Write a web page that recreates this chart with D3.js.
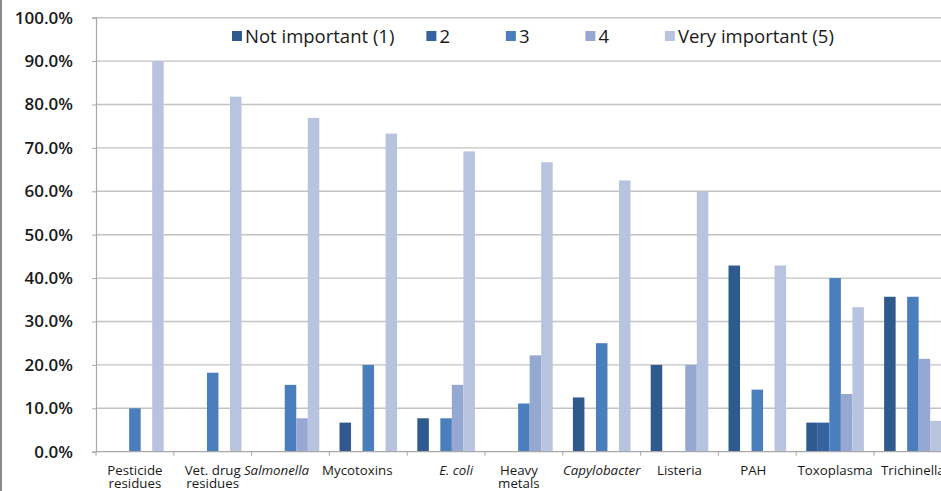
<!DOCTYPE html>
<html>
<head>
<meta charset="utf-8">
<script src="https://cdn.jsdelivr.net/npm/d3@7/dist/d3.min.js"></script>
<style>
  html, body { margin: 0; padding: 0; background: #ffffff; }
  svg { display: block; }
  text { font-family: "Open Sans", "Noto Sans", sans-serif; fill: #1a1a1a; }
</style>
</head>
<body>
<svg id="chart" width="941" height="491"></svg>
<script>
// Survey: perceived importance of hazards (share of respondents, %)
const categories = ["Pesticide residues", "Vet. drug residues", "Salmonella", "Mycotoxins", "E. coli",
  "Heavy metals", "Capylobacter", "Listeria", "PAH", "Toxoplasma", "Trichinella"];
const italicCategories = ["Salmonella", "E. coli", "Capylobacter"];
const seriesNames = ["Not important (1)", "2", "3", "4", "Very important (5)"];
const notImportant  = [0, 0, 0, 6.7, 7.7, 0, 12.5, 20, 42.9, 6.7, 35.7];
const rating2       = [0, 0, 0, 0, 0, 0, 0, 0, 0, 6.7, 0];
const rating3       = [10, 18.2, 15.4, 20, 7.7, 11.1, 25, 0, 14.3, 40, 35.7];
const rating4       = [0, 0, 7.7, 0, 15.4, 22.2, 0, 20, 0, 13.3, 21.4];
const veryImportant = [90, 81.8, 76.9, 73.3, 69.2, 66.7, 62.5, 60, 42.9, 33.3, 7.1];
const yTicks = [0, 10, 20, 30, 40, 50, 60, 70, 80, 90, 100];

const seriesValues = [notImportant, rating2, rating3, rating4, veryImportant];
const colors = ["#2e5a8d", "#3463a0", "#4a7ebd", "#95a8d2", "#b8c4df"];

const svg = d3.select("#chart");

// plot geometry
const plotLeft = 96, plotTop = 17.7, plotBottom = 451.7;
const step = 77.8;

const x = d3.scaleBand()
  .domain(categories)
  .range([plotLeft, plotLeft + step * categories.length])
  .paddingInner(0.26)
  .paddingOuter(0.13);

const xs = d3.scaleBand()
  .domain(d3.range(seriesNames.length))
  .range([0, x.bandwidth()]);

const y = d3.scaleLinear().domain([0, 100]).range([plotBottom, plotTop]);

// frame edge on the left
svg.append("line")
  .attr("x1", 1).attr("x2", 1).attr("y1", 0).attr("y2", 491)
  .attr("stroke", "#8a8a8a").attr("stroke-width", 2);

// horizontal gridlines
svg.append("g")
  .selectAll("line")
  .data(yTicks.filter(d => d > 0))
  .join("line")
  .attr("x1", plotLeft).attr("x2", 941)
  .attr("y1", d => y(d)).attr("y2", d => y(d))
  .attr("stroke", "#c3c3c3").attr("stroke-width", 1.4);

// y axis
const yAxis = svg.append("g")
  .attr("transform", `translate(${plotLeft},0)`)
  .call(d3.axisLeft(y).tickValues(yTicks).tickSize(4).tickPadding(19)
    .tickFormat(d => d.toFixed(1) + "%"));
yAxis.select(".domain").attr("stroke", "#a8a8a8").attr("stroke-width", 1.2);
yAxis.selectAll(".tick line").attr("stroke", "#a8a8a8");
yAxis.selectAll(".tick text")
  .attr("font-size", 17).attr("font-weight", 600)
  .attr("fill", "#1a1a1a")
  .style("font-family", "'Open Sans', sans-serif");

// bars
const groups = svg.append("g")
  .selectAll("g")
  .data(seriesValues)
  .join("g")
  .attr("fill", (d, i) => colors[i]);

groups.selectAll("rect")
  .data((vals, si) => vals.map((v, ci) => ({ v, ci, si })))
  .join("rect")
  .attr("x", d => x(categories[d.ci]) + xs(d.si))
  .attr("width", xs.bandwidth())
  .attr("y", d => y(d.v))
  .attr("height", d => y(0) - y(d.v));

// x axis baseline and category ticks
const xAxisG = svg.append("g");
xAxisG.append("line")
  .attr("x1", plotLeft).attr("x2", 941)
  .attr("y1", plotBottom).attr("y2", plotBottom)
  .attr("stroke", "#a8a8a8").attr("stroke-width", 1.2);
xAxisG.selectAll("line.tick")
  .data(d3.range(categories.length + 1))
  .join("line")
  .attr("class", "tick")
  .attr("x1", i => plotLeft + i * step).attr("x2", i => plotLeft + i * step)
  .attr("y1", plotBottom).attr("y2", plotBottom + 4)
  .attr("stroke", "#a8a8a8");

// category labels (two-word labels wrap onto a second line)
const wrapped = {
  "Pesticide residues": ["Pesticide", "residues"],
  "Vet. drug residues": ["Vet. drug", "residues"],
  "Heavy metals": ["Heavy", "metals"]
};
const labelNudge = { "Salmonella": -14, "Mycotoxins": -11, "E. coli": 10, "Heavy metals": -5, "PAH": -4 };
const labels = svg.append("g")
  .selectAll("text")
  .data(categories)
  .join("text")
  .attr("x", d => x(d) + x.bandwidth() / 2 + (labelNudge[d] || 0))
  .attr("y", 474.5)
  .attr("text-anchor", "middle")
  .attr("font-size", 13.3)
  .attr("font-style", d => italicCategories.includes(d) ? "italic" : "normal");
labels.each(function(d) {
  const lines = wrapped[d] || [d];
  const t = d3.select(this);
  lines.forEach((ln, i) => {
    t.append("tspan")
      .attr("x", x(d) + x.bandwidth() / 2 + (labelNudge[d] || 0))
      .attr("dy", i === 0 ? 0 : 13.5)
      .text(ln);
  });
});

// legend
const legend = svg.append("g").attr("transform", "translate(232,0)");
let lx = 0;
seriesNames.forEach((name, i) => {
  const item = legend.append("g").attr("transform", `translate(${lx},0)`);
  item.append("rect")
    .attr("x", 0).attr("y", 31).attr("width", 10).attr("height", 10)
    .attr("fill", colors[i]);
  const t = item.append("text")
    .attr("x", 13).attr("y", 42.5)
    .attr("font-size", 18.5)
    .text(name);
  const w = t.node().getComputedTextLength();
  lx += Math.max(13 + w + 32, 79.5);
});
</script>
</body>
</html>
